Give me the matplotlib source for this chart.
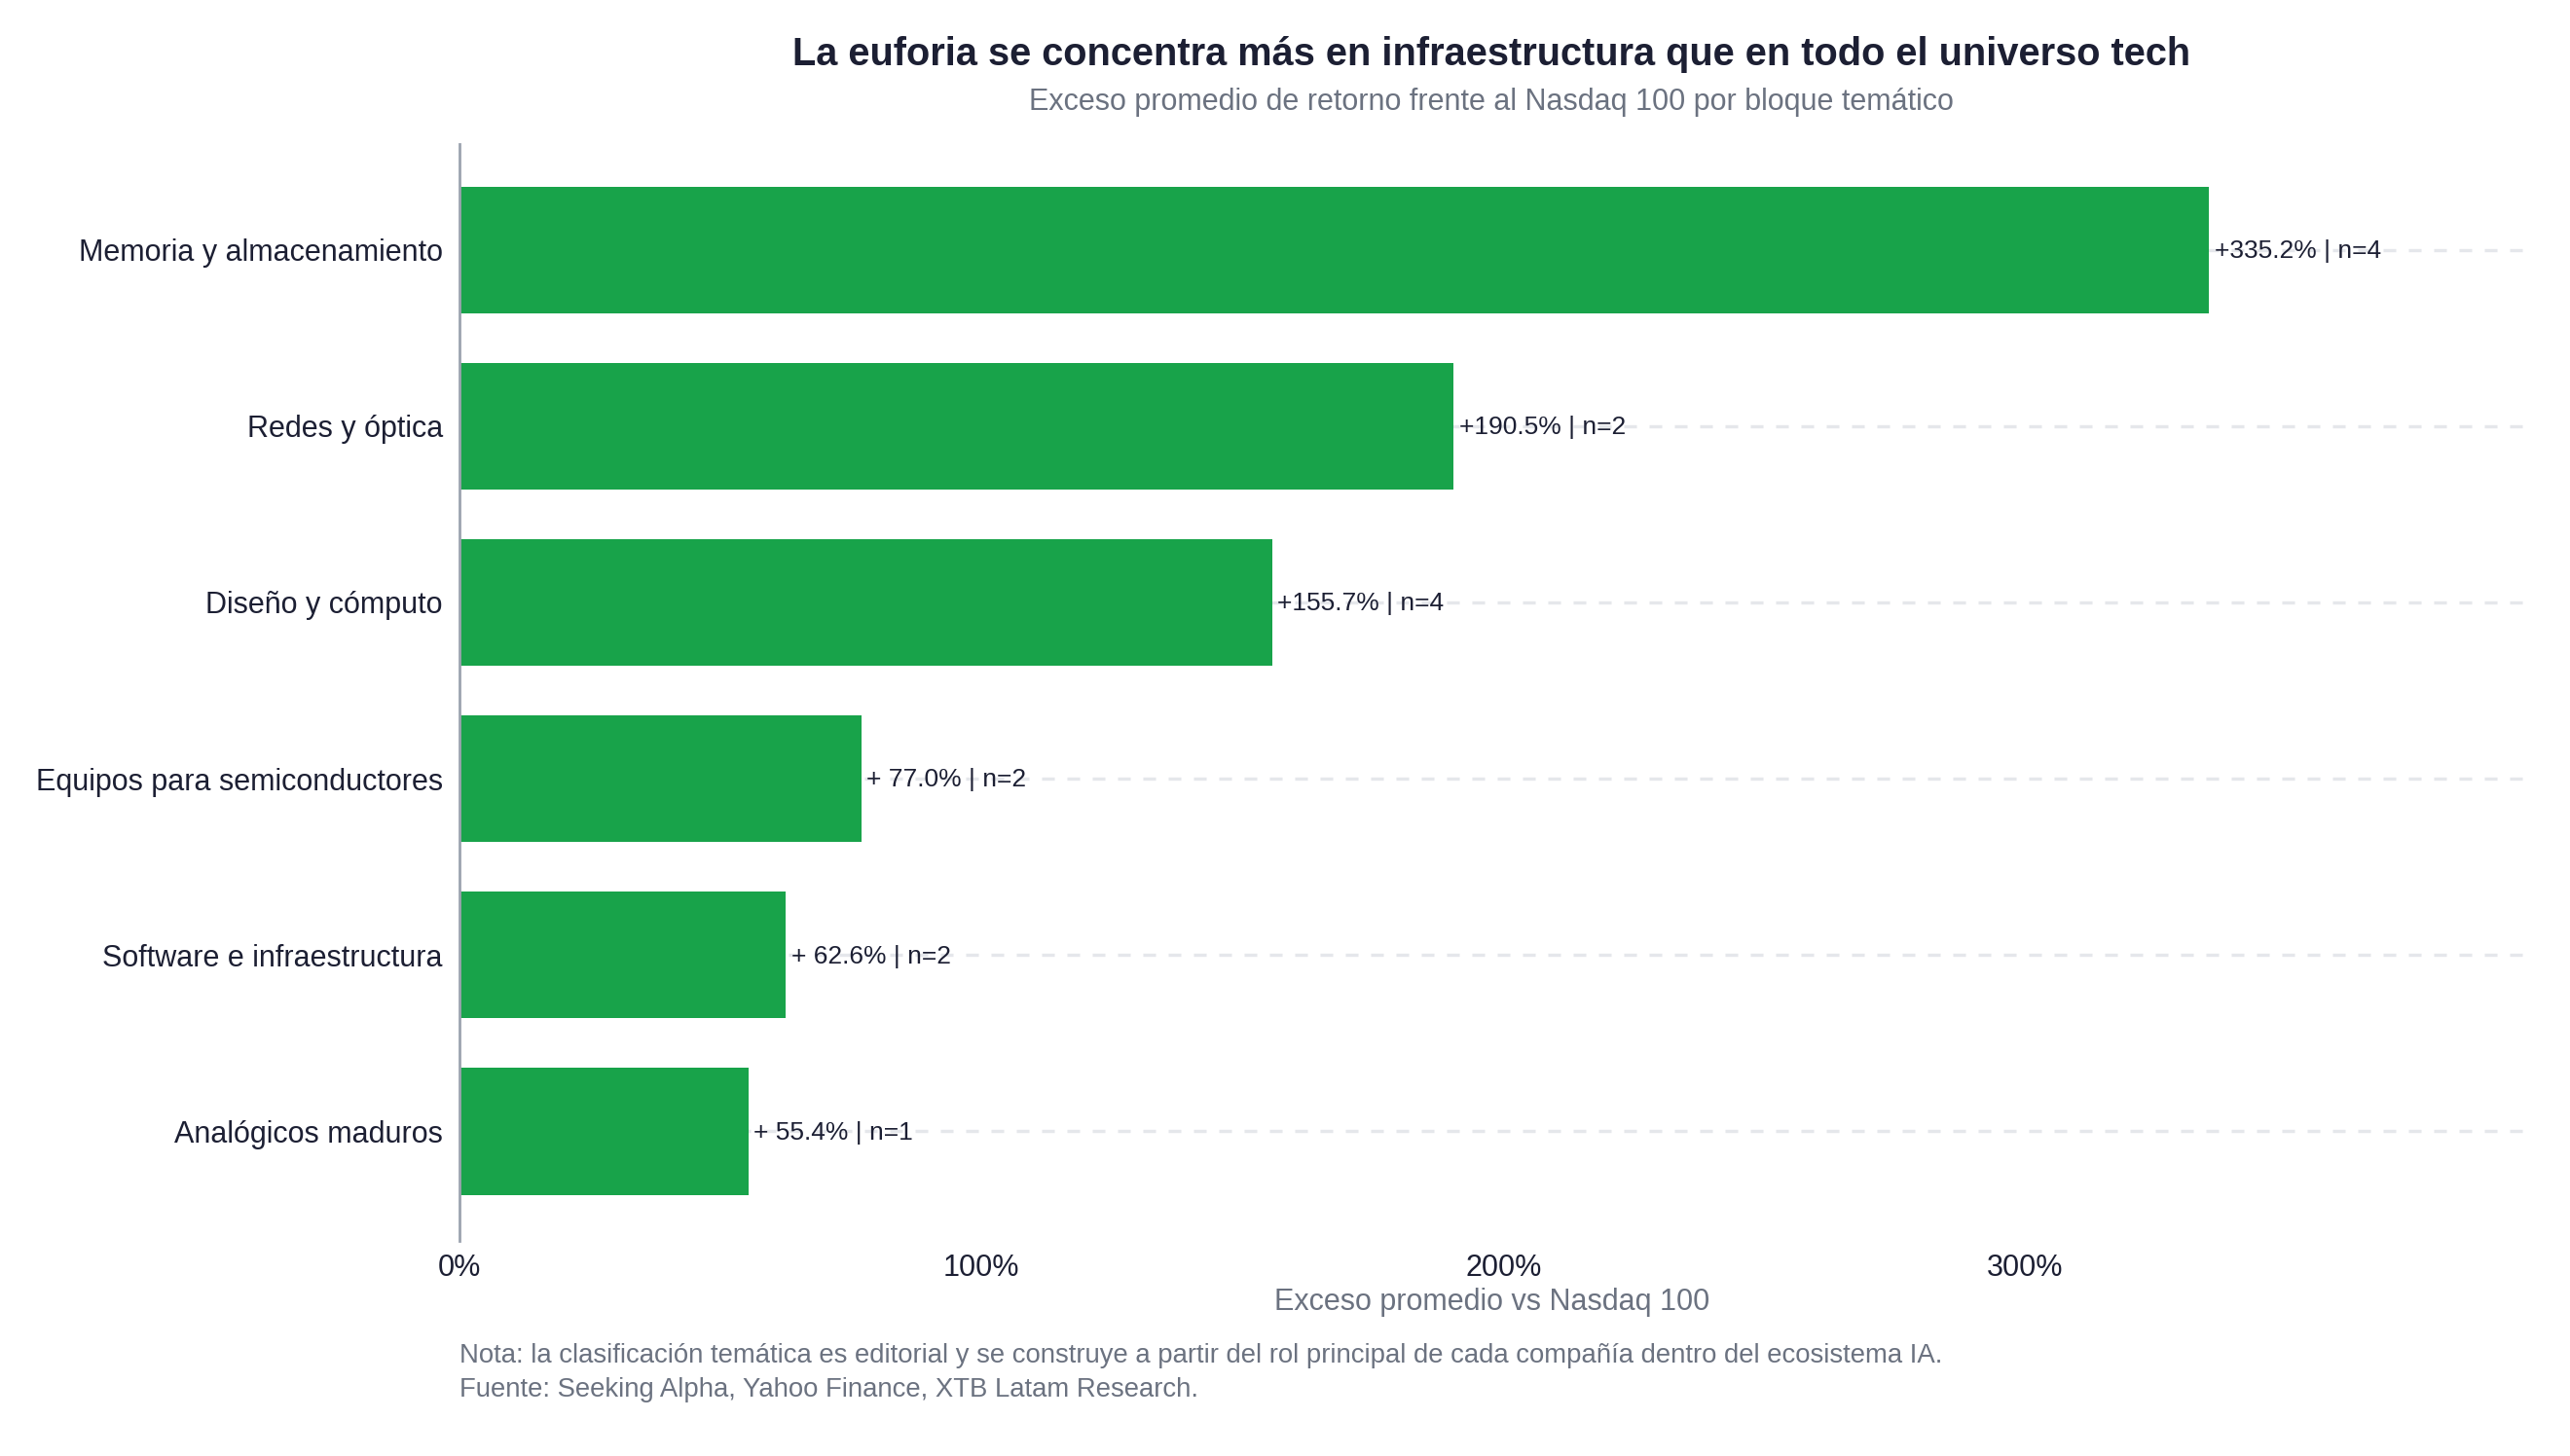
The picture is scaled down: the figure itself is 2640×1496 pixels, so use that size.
import matplotlib
matplotlib.use("Agg")
import matplotlib.pyplot as plt
from matplotlib.ticker import FuncFormatter

plt.rcParams['font.family'] = ['Liberation Sans', 'DejaVu Sans']

categorias = ["Memoria y almacenamiento", "Redes y óptica", "Diseño y cómputo",
              "Equipos para semiconductores", "Software e infraestructura",
              "Analógicos maduros"]
exceso = [335.2, 190.5, 155.7, 77.0, 62.6, 55.4]
n_empresas = [4, 2, 4, 2, 2, 1]
ticks_x = [0, 100, 200, 300]

verde = "#18a34a"
oscuro = "#1c1f33"
gris = "#6b7280"

fig = plt.figure(figsize=(13.2, 7.48), dpi=200)
ax = fig.add_axes([0.1786, 0.148, 0.8036, 0.753])

pos = list(range(len(categorias)))[::-1]
ax.barh(pos, exceso, height=0.72, color=verde, zorder=2)

for y, v, n in zip(pos, exceso, n_empresas):
    ax.annotate("+{:5.1f}% | n={}".format(v, n), xy=(v, y), xytext=(2, -0.5),
                textcoords="offset points", va="center", ha="left",
                fontsize=9.5, color=oscuro, zorder=3)

ax.set_yticks(pos)
ax.set_yticklabels(categorias, fontsize=11, color=oscuro)
ax.set_xticks(ticks_x)
ax.xaxis.set_major_formatter(FuncFormatter(lambda x, p: "{:.0f}%".format(x)))
ax.tick_params(axis="x", labelsize=11, labelcolor=oscuro, length=0, pad=5)
ax.tick_params(axis="y", length=0, pad=6)
ax.set_xlim(0, max(exceso) * 1.18)
ax.set_ylim(-0.62, len(categorias) - 1 + 0.6)

ax.grid(axis="y", color="#e5e7eb", linewidth=1.2, linestyle=(0, (3.9, 3.9)))
ax.grid(axis="x", visible=False)
ax.set_axisbelow(True)

for s in ["top", "right", "bottom"]:
    ax.spines[s].set_visible(False)
ax.spines["left"].set_color("#9ca3af")
ax.spines["left"].set_linewidth(1.0)

ax.set_xlabel("Exceso promedio vs Nasdaq 100", fontsize=11, color=gris, labelpad=1.5)

cx = 0.1786 + 0.8036 / 2
fig.text(cx, 0.9625, "La euforia se concentra más en infraestructura que en todo el universo tech",
         ha="center", va="center", fontsize=14.3, fontweight="bold", color=oscuro)
fig.text(cx, 0.930, "Exceso promedio de retorno frente al Nasdaq 100 por bloque temático",
         ha="center", va="center", fontsize=11, color=gris)

fig.text(0.1786, 0.069, "Nota: la clasificación temática es editorial y se construye a partir del rol principal de cada compañía dentro del ecosistema IA.",
         ha="left", va="center", fontsize=9.9, color=gris)
fig.text(0.1786, 0.0455, "Fuente: Seeking Alpha, Yahoo Finance, XTB Latam Research.",
         ha="left", va="center", fontsize=9.9, color=gris)

fig.savefig("out.png", dpi=200, facecolor="white")
